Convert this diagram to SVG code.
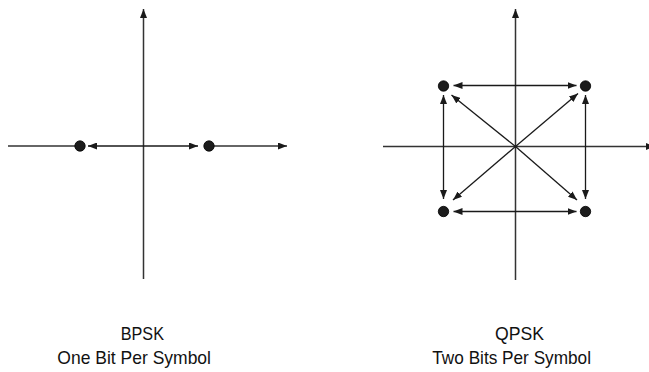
<svg xmlns="http://www.w3.org/2000/svg" width="649" height="372" viewBox="0 0 649 372">
<style>
.axis{stroke:#333;stroke-width:1.5;fill:none}
.arr{stroke:#1a1a1a;stroke-width:1.3;fill:none}
.dot{fill:#1c1c1c;stroke:#000;stroke-width:0.8}
.lbl{font-family:"Liberation Sans",Arial,sans-serif;font-size:19px;fill:#111}
</style>
<defs>
<marker id="ah" markerUnits="userSpaceOnUse" markerWidth="9" markerHeight="7" refX="9" refY="3.5" orient="auto-start-reverse">
<path d="M0,0 L9,3.5 L0,7 z" fill="#1a1a1a"/>
</marker>
</defs>
<rect width="649" height="372" fill="#fff"/>
<g id="connectors">
<line class="axis" x1="143.5" y1="279" x2="143.5" y2="9" marker-end="url(#ah)"/>
<line class="axis" x1="8" y1="146" x2="75" y2="146"/>
<line class="axis" x1="214" y1="146" x2="287" y2="146" marker-end="url(#ah)"/>
<line class="arr" x1="88" y1="146" x2="198" y2="146" marker-start="url(#ah)" marker-end="url(#ah)"/>
<line class="axis" x1="515.5" y1="280" x2="515.5" y2="9" marker-end="url(#ah)"/>
<line class="axis" x1="383" y1="146.5" x2="655" y2="146.5" marker-end="url(#ah)"/>
<line class="arr" x1="453.5" y1="85.5" x2="576.5" y2="85.5" marker-start="url(#ah)" marker-end="url(#ah)"/>
<line class="arr" x1="453.5" y1="211.5" x2="576.5" y2="211.5" marker-start="url(#ah)" marker-end="url(#ah)"/>
<line class="arr" x1="443.5" y1="95" x2="443.5" y2="199" marker-start="url(#ah)" marker-end="url(#ah)"/>
<line class="arr" x1="585.5" y1="95" x2="585.5" y2="199" marker-start="url(#ah)" marker-end="url(#ah)"/>
<line class="arr" x1="515.5" y1="146.5" x2="451.5" y2="95" marker-end="url(#ah)"/>
<line class="arr" x1="515.5" y1="146.5" x2="578" y2="93.5" marker-end="url(#ah)"/>
<line class="arr" x1="515.5" y1="146.5" x2="453" y2="200" marker-end="url(#ah)"/>
<line class="arr" x1="515.5" y1="146.5" x2="577" y2="200" marker-end="url(#ah)"/>
</g>
<g id="bpsk-p0"><circle class="dot" cx="80" cy="146" r="5.2"/></g>
<g id="bpsk-p1"><circle class="dot" cx="209" cy="146" r="5.2"/></g>
<g id="qpsk-p00"><circle class="dot" cx="443.5" cy="86" r="5.2"/></g>
<g id="qpsk-p01"><circle class="dot" cx="585.5" cy="86" r="5.2"/></g>
<g id="qpsk-p10"><circle class="dot" cx="443.5" cy="211.5" r="5.2"/></g>
<g id="qpsk-p11"><circle class="dot" cx="585.5" cy="211.5" r="5.2"/></g>
<g id="bpsk-label">
<text class="lbl" x="120.7" y="340" textLength="43.3" lengthAdjust="spacingAndGlyphs">BPSK</text>
<text class="lbl" x="57.3" y="364" textLength="153.7" lengthAdjust="spacingAndGlyphs">One Bit Per Symbol</text>
</g>
<g id="qpsk-label">
<text class="lbl" x="495" y="340" textLength="49" lengthAdjust="spacingAndGlyphs">QPSK</text>
<text class="lbl" x="432.3" y="364" textLength="158.7" lengthAdjust="spacingAndGlyphs">Two Bits Per Symbol</text>
</g>
</svg>
